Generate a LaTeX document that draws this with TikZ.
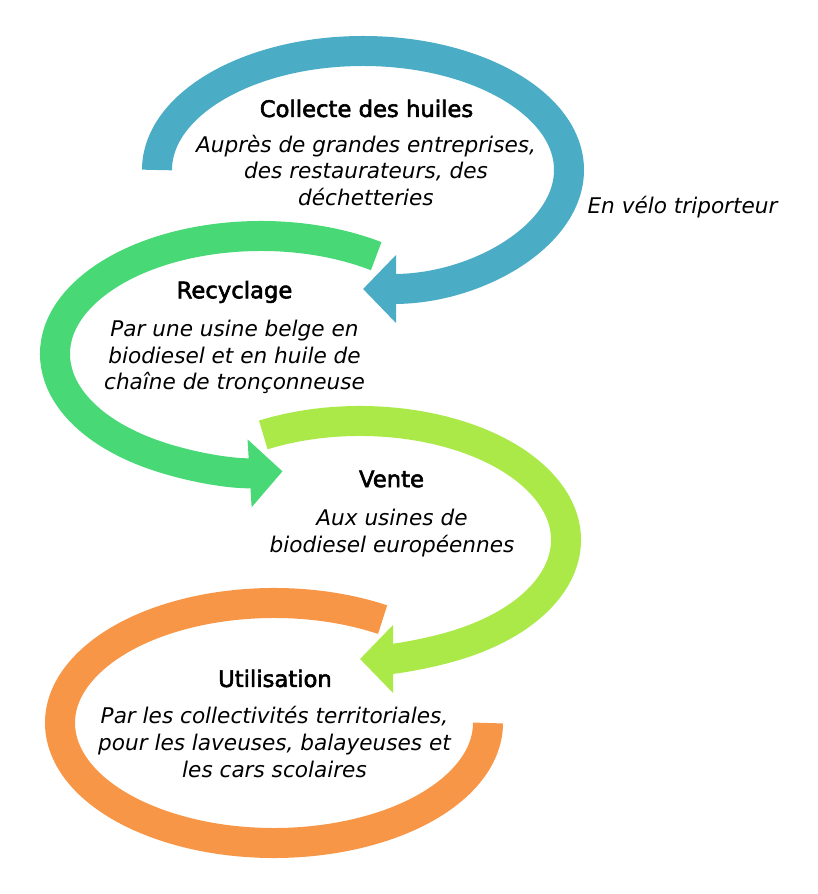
\documentclass[tikz,border=0pt]{standalone}
\usepackage{fontspec}
\setmainfont{DejaVu Sans}
\newfontfamily\stagefont{DejaVu Sans}[FakeBold=2.5]
\usetikzlibrary{arrows.meta}

\definecolor{collblue}{HTML}{4BACC6}
\definecolor{recygreen}{HTML}{48D875}
\definecolor{ventlime}{HTML}{ABE948}
\definecolor{utilorange}{HTML}{F79646}

\begin{document}
\begin{tikzpicture}[x=1pt,y=1pt,
	ring/.style={line width=30pt},
	headed/.style={-{Triangle[length=33pt,width=66pt]}},
	stage/.style={font=\stagefont\fontsize{22.7}{27}\selectfont},
	detail/.style={align=center,font=\itshape\fontsize{21.6}{26.7}\selectfont}]

\useasboundingbox (0,0) rectangle (817,894);

% rings
\draw[ring,collblue,headed]   (363,724) ++(180:206pt and 119pt) arc[start angle=180,end angle=-90,x radius=206pt,y radius=119pt];
\draw[ring,recygreen,headed]  (261,540) ++(56:206pt and 118pt)  arc[start angle=56,end angle=276,x radius=206pt,y radius=118pt];
\draw[ring,ventlime,headed]   (360,354) ++(118:206pt and 119pt) arc[start angle=118,end angle=-90,x radius=206pt,y radius=119pt];
\draw[ring,utilorange]        (274,171) ++(59.5:214pt and 120pt) arc[start angle=59.5,end angle=360,x radius=214pt,y radius=120pt];

% texts
\node[stage]  (Coll)    at (366.5,785.5) {Collecte des huiles};
\node[detail] (CollTxt) at (366,723.5)   {Auprès de grandes entreprises,\\des restaurateurs, des\\déchetteries};
\node[detail] (Velo)    at (682.5,687)   {En vélo triporteur};

\node[stage]  (Recy)    at (234.5,602)   {Recyclage};
\node[detail] (RecyTxt) at (234.5,537)   {Par une usine belge en\\biodiesel et en huile de\\chaîne de tronçonneuse};

\node[stage]  (Vent)    at (391.5,415)   {Vente};
\node[detail] (VentTxt) at (392,361)     {Aux usines de\\biodiesel européennes};

\node[stage]  (Util)    at (275,215.5)   {Utilisation};
\node[detail] (UtilTxt) at (274.5,152)   {Par les collectivités territoriales,\\pour les laveuses, balayeuses et\\les cars scolaires};
\end{tikzpicture}
\end{document}
